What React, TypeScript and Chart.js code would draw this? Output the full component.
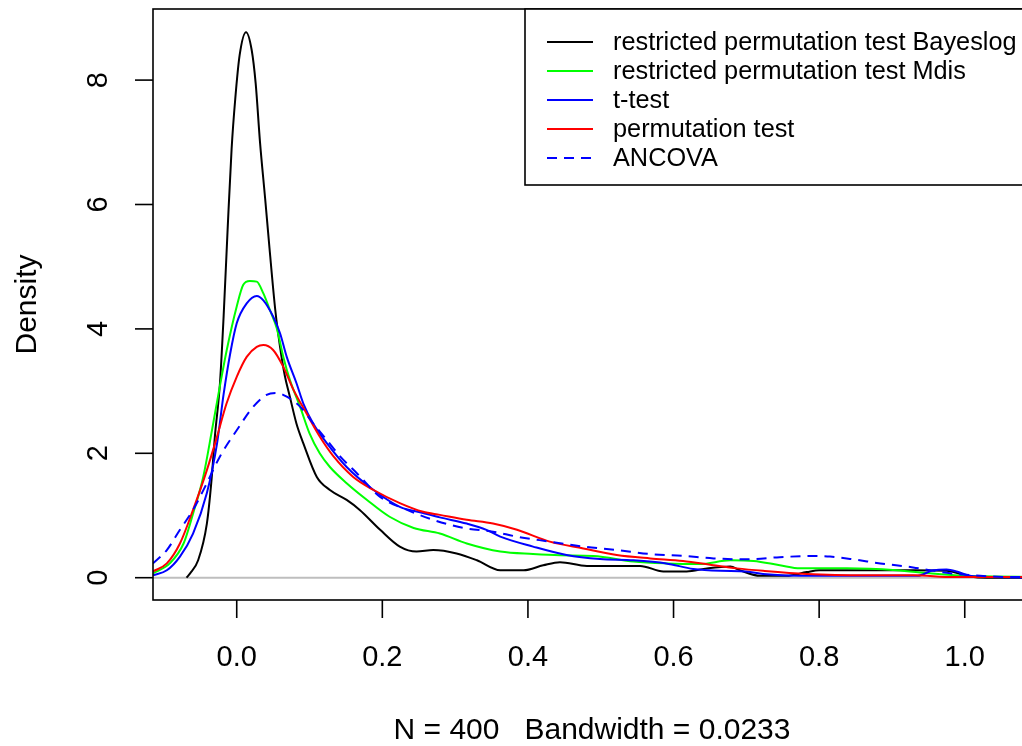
import React, { useEffect, useRef } from "react";
import { Chart, registerables } from "chart.js";

Chart.register(...registerables);

const seriesNames = [
  "restricted permutation test Bayeslog",
  "restricted permutation test Mdis",
  "t-test",
  "permutation test",
  "ANCOVA",
];
const seriesColors = ["#000000", "#00ff00", "#0000ff", "#ff0000", "#0000ff"];

const bayeslogX = [-0.069, -0.064, -0.053, -0.041, -0.035, -0.03, -0.023, -0.018, -0.0125, -0.007, -0.002, 0.004, 0.0128, 0.0206, 0.026, 0.032, 0.039, 0.045, 0.053, 0.0595, 0.066, 0.073, 0.082, 0.0915, 0.11, 0.128, 0.151, 0.169, 0.197, 0.224, 0.247, 0.27, 0.302, 0.33, 0.362, 0.394, 0.421, 0.444, 0.481, 0.554, 0.586, 0.618, 0.646, 0.678, 0.691, 0.719, 0.755, 0.783, 0.8, 0.861, 0.929, 0.975, 0.994, 1.007, 1.03, 1.091];
const bayeslogY = [0, 0.07, 0.28, 0.87, 1.52, 2.27, 3.13, 4.2, 5.6, 6.9, 7.7, 8.4, 8.77, 8.48, 7.95, 7.0, 6.1, 5.3, 4.3, 3.71, 3.25, 2.91, 2.48, 2.16, 1.62, 1.41, 1.25, 1.09, 0.77, 0.5, 0.42, 0.445, 0.39, 0.28, 0.12, 0.12, 0.2, 0.25, 0.19, 0.19, 0.1, 0.1, 0.15, 0.18, 0.12, 0.03, 0.03, 0.09, 0.12, 0.12, 0.12, 0.11, 0.06, 0.02, 0.0, 0.0];

const mdisX = [-0.115, -0.092, -0.073, -0.06, -0.046, -0.034, -0.025, -0.0137, 0, 0.009, 0.018, 0.0275, 0.0366, 0.0457, 0.055, 0.064, 0.073, 0.087, 0.1, 0.114, 0.128, 0.151, 0.179, 0.21, 0.243, 0.279, 0.316, 0.362, 0.407, 0.444, 0.49, 0.545, 0.59, 0.636, 0.678, 0.71, 0.746, 0.774, 0.838, 0.906, 0.952, 0.998, 1.04, 1.091];
const mdisY = [0.07, 0.23, 0.55, 1.03, 1.62, 2.37, 2.96, 3.66, 4.36, 4.71, 4.77, 4.76, 4.57, 4.3, 4.01, 3.55, 3.18, 2.75, 2.32, 2.0, 1.78, 1.52, 1.25, 0.98, 0.8, 0.71, 0.55, 0.42, 0.38, 0.36, 0.35, 0.26, 0.23, 0.22, 0.28, 0.27, 0.2, 0.15, 0.15, 0.12, 0.07, 0.03, 0.02, 0.01];

const tTestX = [-0.115, -0.096, -0.078, -0.06, -0.041, -0.027, -0.018, -0.009, 0, 0.0137, 0.0275, 0.0366, 0.05, 0.0595, 0.0687, 0.082, 0.0915, 0.105, 0.124, 0.151, 0.188, 0.224, 0.256, 0.279, 0.316, 0.343, 0.362, 0.407, 0.453, 0.499, 0.545, 0.59, 0.627, 0.664, 0.7, 0.723, 0.792, 0.865, 0.935, 0.957, 0.975, 0.989, 1.007, 1.04, 1.091];
const tTestY = [0.04, 0.12, 0.34, 0.71, 1.36, 2.16, 2.95, 3.6, 4.09, 4.41, 4.53, 4.46, 4.2, 3.93, 3.55, 3.13, 2.8, 2.48, 2.16, 1.78, 1.41, 1.14, 1.04, 0.97, 0.87, 0.77, 0.66, 0.5, 0.365, 0.3, 0.28, 0.23, 0.14, 0.11, 0.1, 0.06, 0.03, 0.03, 0.03, 0.12, 0.13, 0.1, 0.03, 0.01, 0.0];

const permX = [-0.115, -0.096, -0.078, -0.06, -0.041, -0.027, -0.014, 0, 0.0137, 0.0275, 0.0366, 0.05, 0.064, 0.078, 0.096, 0.114, 0.133, 0.16, 0.188, 0.224, 0.256, 0.279, 0.316, 0.352, 0.385, 0.43, 0.476, 0.522, 0.568, 0.613, 0.655, 0.687, 0.723, 0.783, 0.865, 0.929, 0.985, 1.091];
const permY = [0.1, 0.23, 0.55, 1.09, 1.73, 2.27, 2.8, 3.23, 3.55, 3.71, 3.74, 3.66, 3.39, 3.02, 2.64, 2.27, 1.95, 1.62, 1.41, 1.2, 1.06, 1.01, 0.93, 0.87, 0.77, 0.58, 0.47, 0.365, 0.31, 0.27, 0.2, 0.15, 0.11, 0.06, 0.04, 0.04, 0.01, 0.01];

const ancovaX = [-0.115, -0.096, -0.078, -0.06, -0.041, -0.023, 0, 0.0228, 0.041, 0.055, 0.0687, 0.087, 0.105, 0.124, 0.142, 0.165, 0.197, 0.234, 0.27, 0.293, 0.316, 0.352, 0.385, 0.43, 0.476, 0.522, 0.568, 0.613, 0.655, 0.7, 0.746, 0.792, 0.815, 0.847, 0.884, 0.929, 0.975, 1.021, 1.067, 1.091];
const ancovaY = [0.23, 0.445, 0.77, 1.09, 1.52, 1.95, 2.37, 2.75, 2.94, 2.97, 2.91, 2.75, 2.48, 2.21, 1.95, 1.68, 1.3, 1.09, 0.93, 0.85, 0.79, 0.74, 0.66, 0.58, 0.5, 0.445, 0.38, 0.35, 0.31, 0.295, 0.33, 0.35, 0.34, 0.295, 0.23, 0.165, 0.08, 0.03, 0.01, 0.01];

const xTicks = [0, 0.2, 0.4, 0.6, 0.8, 1.0];
const xTickLabels = ["0.0", "0.2", "0.4", "0.6", "0.8", "1.0"];
const yTicks = [0, 2, 4, 6, 8];
const yTickLabels = ["0", "2", "4", "6", "8"];
const xTitle = "N = 400   Bandwidth = 0.0233";
const yTitle = "Density";

const FONT = "'Liberation Sans', Arial, Helvetica, sans-serif";

function pts(xs: number[], ys: number[]) {
  return xs.map((x, i) => ({ x, y: ys[i] }));
}

const rPlugin = {
  id: "rstyle",
  beforeDatasetsDraw(chart: any) {
    const ctx = chart.ctx;
    const { left, right } = chart.chartArea;
    const y0 = chart.scales.y.getPixelForValue(0);
    ctx.save();
    ctx.strokeStyle = "#bebebe";
    ctx.lineWidth = 2;
    ctx.beginPath();
    ctx.moveTo(left, y0);
    ctx.lineTo(right, y0);
    ctx.stroke();
    ctx.restore();
  },
  afterDraw(chart: any) {
    const ctx = chart.ctx;
    const { left, right, top, bottom } = chart.chartArea;
    const xs = chart.scales.x;
    const ys = chart.scales.y;
    ctx.save();
    ctx.strokeStyle = "#000";
    ctx.fillStyle = "#000";
    ctx.lineWidth = 1.6;
    ctx.strokeRect(left, top, right - left, bottom - top);

    ctx.font = `29px ${FONT}`;
    ctx.textAlign = "center";
    ctx.textBaseline = "middle";
    xTicks.forEach((t, i) => {
      const px = xs.getPixelForValue(t);
      ctx.beginPath();
      ctx.moveTo(px, bottom);
      ctx.lineTo(px, bottom + 18);
      ctx.stroke();
      ctx.fillText(xTickLabels[i], px, 658);
    });
    yTicks.forEach((t, i) => {
      const py = ys.getPixelForValue(t);
      ctx.beginPath();
      ctx.moveTo(left - 18, py);
      ctx.lineTo(left, py);
      ctx.stroke();
      ctx.save();
      ctx.translate(99, py);
      ctx.rotate(-Math.PI / 2);
      ctx.fillText(yTickLabels[i], 0, 0);
      ctx.restore();
    });
    ctx.font = `30px ${FONT}`;
    ctx.fillText(xTitle, (left + right) / 2, 731);
    ctx.save();
    ctx.translate(28, (top + bottom) / 2);
    ctx.rotate(-Math.PI / 2);
    ctx.fillText(yTitle, 0, 0);
    ctx.restore();

    // legend
    const lx = 525;
    ctx.fillStyle = "#fff";
    ctx.fillRect(lx, top, right - lx, 185 - top);
    ctx.lineWidth = 1.6;
    ctx.strokeStyle = "#000";
    ctx.strokeRect(lx, top, right - lx, 185 - top);
    ctx.font = `25.3px ${FONT}`;
    ctx.textAlign = "left";
    ctx.textBaseline = "middle";
    const rows = [42, 71, 100, 129, 158];
    seriesNames.forEach((name, i) => {
      const y = rows[i];
      ctx.strokeStyle = seriesColors[i];
      ctx.lineWidth = 2;
      ctx.setLineDash(i === 4 ? [10, 7] : []);
      ctx.beginPath();
      ctx.moveTo(547, y);
      ctx.lineTo(593, y);
      ctx.stroke();
      ctx.setLineDash([]);
      ctx.fillStyle = "#000";
      ctx.fillText(name, 613, y + 1);
    });
    ctx.restore();
  },
};

export default function App() {
  const ref = useRef<HTMLCanvasElement | null>(null);
  useEffect(() => {
    if (!ref.current) return;
    const allX = [bayeslogX, mdisX, tTestX, permX, ancovaX];
    const allY = [bayeslogY, mdisY, tTestY, permY, ancovaY];
    const orders = [5, 4, 3, 2, 1];
    const chart = new Chart(ref.current, {
      type: "scatter",
      data: {
        datasets: seriesNames.map((name, i) => ({
          label: name,
          data: pts(allX[i], allY[i]),
          showLine: true,
          borderColor: seriesColors[i],
          backgroundColor: seriesColors[i],
          borderWidth: 2,
          pointRadius: 0,
          borderDash: i === 4 ? [10, 7] : [],
          cubicInterpolationMode: "monotone" as const,
          fill: false,
          order: orders[i],
        })),
      },
      options: {
        animation: false,
        responsive: false,
        maintainAspectRatio: false,
        events: [],
        layout: { padding: { left: 153, right: 9, top: 9, bottom: 146 } },
        plugins: { legend: { display: false }, tooltip: { enabled: false } },
        scales: {
          x: { type: "linear", min: -0.115, max: 1.091, display: false },
          y: { type: "linear", min: -0.3585, max: 9.143, display: false },
        },
      },
      plugins: [rPlugin],
    });
    return () => chart.destroy();
  }, []);
  return (
    <div style={{ position: "fixed", left: 0, top: 0, width: 1022, height: 746, overflow: "hidden", background: "#fff" }}>
      <canvas ref={ref} width={1040} height={746} style={{ width: 1040, height: 746, display: "block" }} />
    </div>
  );
}
